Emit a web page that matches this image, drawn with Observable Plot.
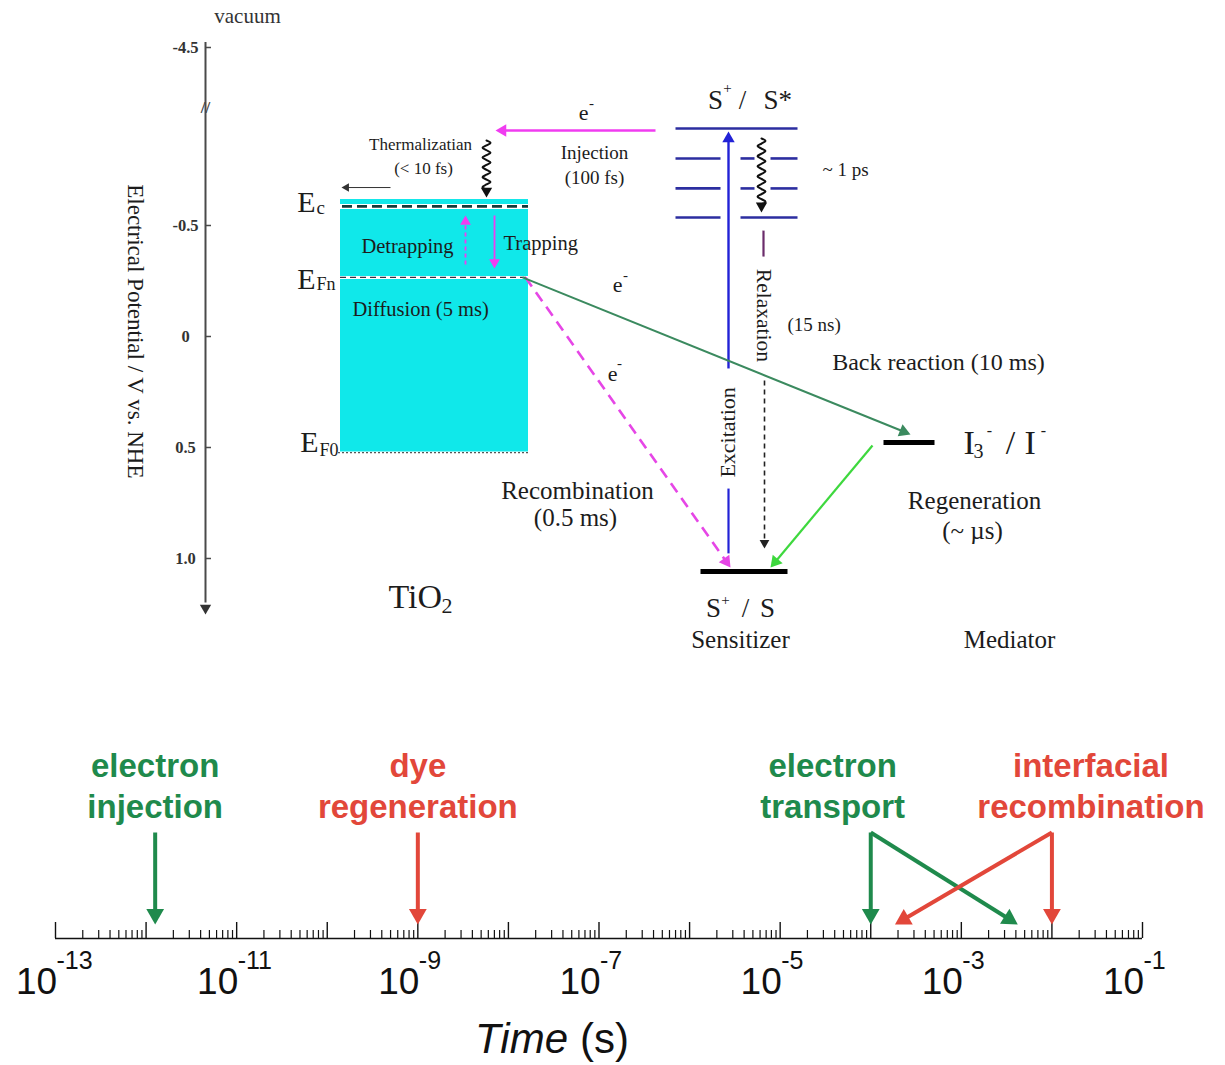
<!DOCTYPE html>
<html><head><meta charset="utf-8">
<script src="https://cdn.jsdelivr.net/npm/d3@7"></script>
<script src="https://cdn.jsdelivr.net/npm/@observablehq/plot@0.6"></script>
<style>body{margin:0;background:#fff}#chart svg{display:block}</style>
</head><body><div id="chart"></div>
<script>
// ================= DATA =================
// Energy diagram (potential in V vs. NHE)
const potentialTicks = [-4.5, -0.5, 0, 0.5, 1.0];
const potentialTickLabels = ["-4.5", "-0.5", "0", "0.5", "1.0"];
const tio2LevelNames = ["Ec", "EFn", "EF0"];
const tio2LevelPotentials = [-0.586, -0.266, 0.523];
const tio2BandTop = -0.617;
const dyeExcitedLevels = [-0.937, -0.802, -0.667, -0.536];   // S+/S* manifold
const dyeGroundLevel = 1.059;                                // S+/S
const mediatorLevel = 0.477;                                 // I3-/I-

// Time scale (s)
const processNames = ["electron\ninjection", "dye\nregeneration", "electron\ntransport", "interfacial\nrecombination"];
const processColors = ["#1f8a4c", "#e2473a", "#1f8a4c", "#e2473a"];
const processLabelTimes = [1.26e-12, 1e-9, 3.8e-5, 2.7e-2];
const processArrowFrom = [1.26e-12, 1e-9, 1e-4, 1e-2];
const processArrowTo = [[1.26e-12], [1e-9], [1e-4, 4.2e-3], [1e-2, 1.85e-4]];
const timeDecades = d3.range(-13, 0);            // 10^-13 ... 10^-1
const timeLabelExponents = [-13, -11, -9, -7, -5, -3, -1];

// ================= LAYOUT =================
const W = 1225, HT = 690, HB = 375;
const SERIF = "'Liberation Serif','Times New Roman','DejaVu Serif',serif";
const SANS = "'Liberation Sans',Arial,Helvetica,sans-serif";
const INK = "#1c1c1c";
const MAG = "#f03cf0", MAG2 = "#e646e6", NAVY = "#2c2ea0", BLUE = "#2222d6";
const GREEN_D = "#3b8a5f", GREEN_L = "#3ed83e", CYAN = "#10e8ea";

// schematic horizontal columns
const col = {axis: 205, tickLabel: 185, tio2L: 340, tio2R: 528, dyeL: 675, dyeR: 797,
  exc: 728, relax: 764, groundL: 700, groundR: 787, medL: 883, medR: 934};

// top y scale (linear); the vacuum part of the axis is compressed by a break
const yDom = [-1.5135, 1.5946], yRng = [0, HT];
const BREAK = -1.1532, BREAK_RATIO = 0.0444;
const brk = v => v >= BREAK ? v : BREAK + (v - BREAK) * BREAK_RATIO;
const xT = d3.scaleLinear().domain([0, W]).range([0, W]);
const yT = d3.scaleLinear().domain(yDom).range(yRng);

// bottom scales
const xDomB = [1e-13, 1e-1], xRngB = [55, 1142];
const yDomB = [-127, 248], yRngB = [HB, 0];
const xB = d3.scaleLog().domain(xDomB).range(xRngB);
const yB = d3.scaleLinear().domain(yDomB).range(yRngB);

// ---------- helpers ----------
function arrowMarks(a, xs, ys) {
  const X1 = xs(a.x1), Y1 = ys(a.y1), X2 = xs(a.x2), Y2 = ys(a.y2);
  const L = Math.hypot(X2 - X1, Y2 - Y1), ux = (X2 - X1) / L, uy = (Y2 - Y1) / L;
  const h = Math.sqrt(Math.PI * a.r * a.r / (3 * Math.sqrt(3)));
  const cx = X2 - ux * 2 * h, cy = Y2 - uy * 2 * h;
  const sx = X2 - ux * 2.4 * h, sy = Y2 - uy * 2.4 * h;
  const marks = [];
  if (!a.noShaft) marks.push(Plot.link([a], {x1: "x1", y1: "y1", x2: () => xs.invert(sx), y2: () => ys.invert(sy),
    stroke: a.color, strokeWidth: a.w, strokeDasharray: a.dash, strokeLinecap: "butt"}));
  marks.push(Plot.dot([a], {x: () => xs.invert(cx), y: () => ys.invert(cy), symbol: "triangle", r: a.r,
    fill: a.color, stroke: "none", rotate: Math.atan2(ux, -uy) * 180 / Math.PI}));
  return marks;
}
function wavyArrow(x, v1, v2, amp, period, r) {
  const h = Math.sqrt(Math.PI * r * r / (3 * Math.sqrt(3)));
  const Y1 = yT(v1), Y2 = yT(v2) - 2.5 * h;
  const n = Math.round((Y2 - Y1) / (period / 4));
  const pts = d3.range(n + 1).map(i => ({x: x + [0, amp, 0, -amp][i % 4], y: yT.invert(Y1 + (Y2 - Y1) * i / n)}));
  return [Plot.line(pts, {x: "x", y: "y", stroke: "#111", strokeWidth: 2, curve: "catmull-rom"}),
    ...arrowMarks({x1: x, y1: yT.invert(Y2 - 4), x2: x, y2: v2, color: "#111", w: 2, r, noShaft: true}, xT, yT)];
}

// ---------- top diagram marks ----------
const tio2Box = [{x1: col.tio2L, x2: col.tio2R, y1: tio2BandTop, y2: tio2LevelPotentials[2]}];
const tio2Lines = tio2LevelNames.map((n, i) => ({name: n, v: tio2LevelPotentials[i]}));
const dyeSegments = [
  [[675, 797]], [[675, 720], [740, 754], [770, 797]], [[675, 720], [740, 754], [770, 797]], [[675, 720], [740, 797]]
].flatMap((segs, i) => segs.map(([a, b]) => ({x1: a, x2: b, v: dyeExcitedLevels[i]})));
const bars = [
  {x1: col.groundL, x2: col.groundR, v: dyeGroundLevel},
  {x1: col.medL, x2: col.medR, v: mediatorLevel}
];
const topArrows = [
  {x1: 655, y1: -0.928, x2: 495, y2: -0.928, color: MAG, w: 2.6, r: 4.6},            // injection
  {x1: 494, y1: -0.545, x2: 494, y2: -0.306, color: MAG, w: 1.8, r: 4},              // trapping
  {x1: 465, y1: -0.324, x2: 465, y2: -0.545, color: MAG, w: 1.8, r: 4, dash: "4,3"}, // detrapping
  {x1: 390, y1: -0.671, x2: 341, y2: -0.671, color: "#333", w: 1, r: 3.2},           // small arrow at Ec
  {x1: col.exc, y1: 0.144, x2: col.exc, y2: -0.923, color: BLUE, w: 2.4, r: 4.6},     // excitation
  {x1: col.relax, y1: 0.198, x2: col.relax, y2: 0.955, color: "#222", w: 1.6, r: 3.6, dash: "5,4"}, // relaxation
  {x1: 525, y1: -0.266, x2: 730, y2: 1.041, color: MAG2, w: 2.6, r: 4.8, dash: "11,7"}, // recombination
  {x1: 522, y1: -0.266, x2: 910, y2: 0.441, color: GREEN_D, w: 2, r: 4.8},            // back reaction
  {x1: 872, y1: 0.491, x2: 770, y2: 1.041, color: GREEN_L, w: 2.2, r: 4.8}            // regeneration
];
const plainSegments = [
  {x1: col.exc, y1: 0.685, x2: col.exc, y2: 0.977, color: BLUE, w: 2.4},
  {x1: 763, y1: -0.477, x2: 763, y2: -0.360, color: "#6b2c6b", w: 2}
];
// [text, x, potential, size, anchor]
const topLabels = [
  ["E", 306, -0.604, 30, "middle"], ["c", 316, -0.579, 19, "start"],
  ["E", 306, -0.257, 30, "middle"], ["Fn", 316, -0.234, 18, "start"],
  ["E", 309, 0.477, 30, "middle"], ["F0", 319, 0.514, 18, "start"],
  ["Thermalizatian", 420, -0.865, 17, "middle"], ["(< 10 fs)", 423, -0.757, 17, "middle"],
  ["Detrapping", 407, -0.405, 20.5, "middle"], ["Trapping", 503, -0.419, 20.5, "start"],
  ["Diffusion (5 ms)", 352, -0.122, 20.5, "start"],
  ["TiO", 388, 1.176, 34, "start"], ["2", 441, 1.212, 22, "start"],
  ["e", 583, -1.009, 22, "middle"], ["-", 591, -1.05, 15, "middle"],
  ["Injection", 594, -0.829, 19, "middle"], ["(100 fs)", 594, -0.716, 19, "middle"],
  ["S", 715, -1.063, 27, "middle"], ["+", 727, -1.117, 15, "middle"], ["/", 742, -1.063, 27, "middle"], ["S*", 763, -1.063, 27, "start"],
  ["~ 1 ps", 822, -0.752, 19, "start"], ["(15 ns)", 787, -0.054, 19, "start"],
  ["Back reaction (10 ms)", 938, 0.117, 24, "middle"],
  ["e", 617, -0.230, 22, "middle"], ["-", 625, -0.275, 15, "middle"],
  ["e", 612, 0.167, 22, "middle"], ["-", 619, 0.122, 15, "middle"],
  ["Recombination", 577, 0.698, 25, "middle"], ["(0.5 ms)", 575, 0.818, 25, "middle"],
  ["I", 963, 0.480, 34, "start"], ["3", 973, 0.518, 20, "start"], ["-", 989, 0.423, 16, "middle"],
  ["/", 1010, 0.480, 34, "middle"], ["I", 1024, 0.480, 34, "start"], ["-", 1043, 0.423, 16, "middle"],
  ["Regeneration", 974, 0.743, 25, "middle"], ["(~ µs)", 972, 0.874, 25, "middle"],
  ["S", 713, 1.223, 27, "middle"], ["+", 725, 1.19, 15, "middle"], ["/", 745, 1.223, 27, "middle"], ["S", 767, 1.223, 27, "middle"],
  ["Sensitizer", 740, 1.365, 25, "middle"], ["Mediator", 1009, 1.369, 25, "middle"]
].map(([text, x, y, size, anchor]) => ({text, x, y, size, anchor}));
const rotatedLabels = [
  {text: "Electrical Potential / V vs. NHE", x: 135, y: -0.023, size: 23, rotate: 90},
  {text: "Excitation", x: 727, y: 0.432, size: 22, rotate: -90},
  {text: "Relaxation", x: 763, y: -0.095, size: 21.5, rotate: 90}
];
const tickData = potentialTicks.map((v, i) => ({v, label: potentialTickLabels[i]}));

const topPlot = Plot.plot({
  width: W, height: HT, margin: 0,
  x: {domain: [0, W], range: [0, W], axis: null},
  y: {domain: yDom, range: yRng, axis: null},
  style: {background: "white", overflow: "visible"},
  marks: [
    Plot.rect(tio2Box, {x1: "x1", x2: "x2", y1: "y1", y2: "y2", fill: CYAN}),
    // Ec
    Plot.ruleY(tio2Lines.filter(d => d.name === "Ec"), {y: "v", x1: col.tio2L, x2: col.tio2R, stroke: "white", strokeWidth: 5}),
    Plot.ruleY(tio2Lines.filter(d => d.name === "Ec"), {y: "v", x1: col.tio2L + 2, x2: col.tio2R, stroke: "#143a3a", strokeWidth: 2.6, strokeDasharray: "10,5"}),
    // EFn
    Plot.ruleY(tio2Lines.filter(d => d.name === "EFn"), {y: "v", x1: col.tio2L, x2: col.tio2R, stroke: "white", strokeWidth: 3}),
    Plot.ruleY(tio2Lines.filter(d => d.name === "EFn"), {y: "v", x1: col.tio2L, x2: col.tio2R, stroke: "#334", strokeWidth: 1.3, strokeDasharray: "6,4"}),
    // EF0
    Plot.ruleY(tio2Lines.filter(d => d.name === "EF0"), {y: "v", x1: col.tio2L - 2, x2: col.tio2R, stroke: "white", strokeWidth: 2}),
    Plot.ruleY(tio2Lines.filter(d => d.name === "EF0"), {y: "v", x1: col.tio2L - 2, x2: col.tio2R, stroke: "#555", strokeWidth: 1.3, strokeDasharray: "2,2"}),
    // dye manifold
    Plot.link(dyeSegments, {x1: "x1", x2: "x2", y1: "v", y2: "v", stroke: NAVY, strokeWidth: 2.6}),
    Plot.link(bars, {x1: "x1", x2: "x2", y1: "v", y2: "v", stroke: "#000", strokeWidth: 5}),
    Plot.link(plainSegments, {x1: "x1", x2: "x2", y1: "y1", y2: "y2", stroke: d => d.color, strokeWidth: 2.2}),
    ...topArrows.flatMap(a => arrowMarks(a, xT, yT)),
    ...wavyArrow(486, -0.883, -0.626, 4, 10, 4.2),
    ...wavyArrow(761, -0.892, -0.559, 4, 10, 4.2),
    // potential axis (broken above -1.15 V)
    Plot.ruleX([col.axis], {x: d => d, y1: brk(-5.0), y2: 1.2, stroke: "#4a4a4a", strokeWidth: 2}),
    ...arrowMarks({x1: col.axis, y1: 1.15, x2: col.axis, y2: 1.252, color: "#333", w: 2, r: 4.2, noShaft: true}, xT, yT),
    Plot.ruleY(tickData, {y: d => brk(d.v), x1: col.axis, x2: col.axis + 6, stroke: "#4a4a4a", strokeWidth: 1.5}),
    Plot.text(tickData, {x: col.tickLabel, y: d => brk(d.v), text: "label", fontSize: 16.5, fontWeight: "bold", fontFamily: SERIF, fill: "#333"}),
    Plot.text(["//"], {x: col.axis, y: -1.03, text: d => d, fontSize: 17, fontWeight: "bold", fontFamily: SERIF, fill: "#444"}),
    Plot.text(["vacuum"], {x: 247, frameAnchor: "top", lineAnchor: "middle", dy: 16, text: d => d, fontSize: 21, fontFamily: SERIF, fill: "#333"}),
    Plot.text(topLabels.filter(d => d.anchor === "middle"), {x: "x", y: "y", text: "text", fontSize: "size", fontFamily: SERIF, fill: INK, textAnchor: "middle"}),
    Plot.text(topLabels.filter(d => d.anchor === "start"), {x: "x", y: "y", text: "text", fontSize: "size", fontFamily: SERIF, fill: INK, textAnchor: "start"}),
    Plot.text(rotatedLabels, {x: "x", y: "y", text: "text", fontSize: "size", rotate: "rotate", fontFamily: SERIF, fill: INK})
  ]
});

// ---------- bottom time scale ----------
const minorTicks = timeDecades.slice(0, -1).flatMap(e => d3.range(2, 10).map(k => k * 10 ** e));
const procs = processNames.map((name, i) => ({name, color: processColors[i], t: processLabelTimes[i]}));
const procArrows = processArrowFrom.flatMap((t0, i) => processArrowTo[i].map(t1 => ({
  x1: t0, y1: 106, x2: t1, y2: 14, color: processColors[i], w: 4, r: 6.6
})));

const bottomPlot = Plot.plot({
  width: W, height: HB, margin: 0,
  x: {type: "log", domain: xDomB, range: xRngB, axis: null},
  y: {domain: yDomB, range: yRngB, axis: null},
  color: {type: "identity"},
  style: {background: "white", overflow: "visible"},
  marks: [
    Plot.ruleY([0], {x1: xDomB[0], x2: xDomB[1], stroke: "#111", strokeWidth: 1.6}),
    Plot.ruleX(timeDecades, {x: e => 10 ** e, y1: 0, y2: 16, stroke: "#111", strokeWidth: 1.4}),
    Plot.ruleX(minorTicks, {x: d => d, y1: 0, y2: 8, stroke: "#111", strokeWidth: 1.2}),
    Plot.text(timeLabelExponents, {x: e => 10 ** e, y: -44, text: () => "10", dx: -19, fontSize: 37, fontFamily: SANS, fill: "#111"}),
    Plot.text(timeLabelExponents, {x: e => 10 ** e, y: -22, text: e => String(e), dx: 1, textAnchor: "start", fontSize: 25, fontFamily: SANS, fill: "#111"}),
    ...procArrows.flatMap(a => arrowMarks(a, xB, yB)),
    Plot.text(procs, {x: "t", y: 154, text: "name", fill: "color", fontSize: 33, fontWeight: "bold", fontFamily: SANS, lineHeight: 1.25}),
    Plot.text(["Time"], {frameAnchor: "bottom", lineAnchor: "middle", text: d => d, textAnchor: "end", dx: -45, dy: -26, fontSize: 42, fontStyle: "italic", fontFamily: SANS, fill: "#111"}),
    Plot.text(["(s)"], {frameAnchor: "bottom", lineAnchor: "middle", text: d => d, textAnchor: "start", dx: -33, dy: -26, fontSize: 42, fontFamily: SANS, fill: "#111"})
  ]
});

document.getElementById("chart").append(topPlot, bottomPlot);
</script></body></html>
